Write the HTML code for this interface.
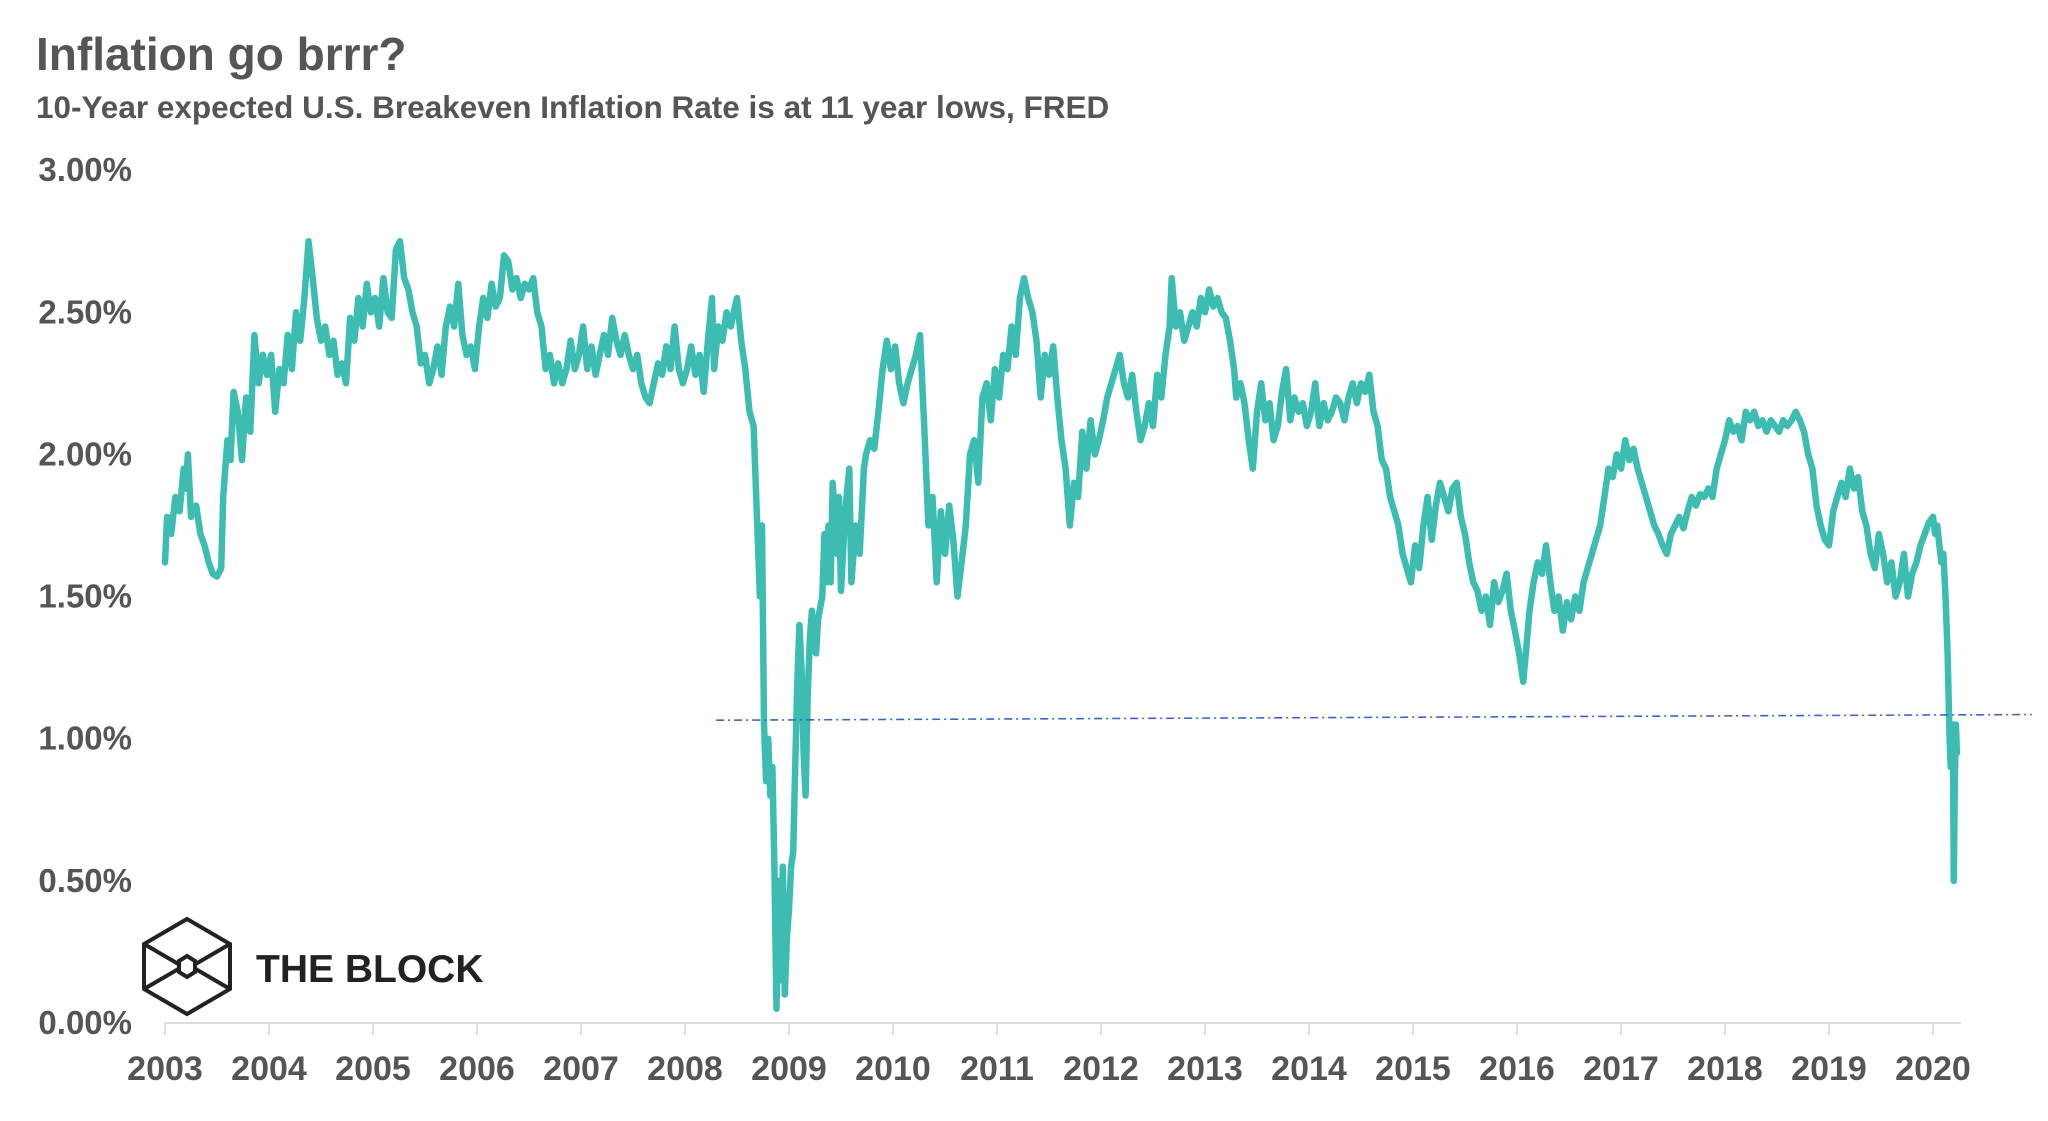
<!DOCTYPE html>
<html><head><meta charset="utf-8"><style>
html,body{margin:0;padding:0;background:#fff;}
body{width:2048px;height:1116px;overflow:hidden;font-family:"Liberation Sans",sans-serif;}
</style></head><body>
<svg id="chart" width="2048" height="1116" xmlns="http://www.w3.org/2000/svg">
<text x="36" y="70" font-family="Liberation Sans, sans-serif" font-size="46" font-weight="bold" fill="#555">Inflation go brrr?</text>
<text x="36" y="118" font-family="Liberation Sans, sans-serif" font-size="31.5" font-weight="bold" fill="#555">10-Year  expected U.S. Breakeven Inflation Rate is at 11 year lows, FRED</text>
<g id="yaxis"></g>
<g id="xaxis"></g>
<g fill="none" stroke="#222" stroke-width="4">
<polygon points="187,919 230,944 230,989 187,1014 144,989 144,944"/>
<line x1="144" y1="944" x2="187" y2="969"/><line x1="230" y1="944" x2="187" y2="969"/>
<line x1="144" y1="989" x2="187" y2="964"/><line x1="230" y1="989" x2="187" y2="964"/>
<polygon points="187,956 195,961 195,972 187,977 179,972 179,961" fill="#fff"/>
</g>
<text x="256" y="982" font-family="Liberation Sans, sans-serif" font-size="39" font-weight="bold" fill="#222">THE BLOCK</text>
<g id="marks"></g>
</svg>
<script>
const yTicks=[0,0.5,1.0,1.5,2.0,2.5,3.0];
const yTickLabels=["0.00%","0.50%","1.00%","1.50%","2.00%","2.50%","3.00%"];
const xTicks=[2003,2004,2005,2006,2007,2008,2009,2010,2011,2012,2013,2014,2015,2016,2017,2018,2019,2020];
const xTickLabels=["2003","2004","2005","2006","2007","2008","2009","2010","2011","2012","2013","2014","2015","2016","2017","2018","2019","2020"];
const refLineX=[2008.3,2020.95];
const refLineY=[1.065,1.085];
const dates=[2003.00,2003.02,2003.06,2003.10,2003.14,2003.18,2003.20,2003.22,2003.25,2003.30,2003.34,2003.38,2003.42,2003.46,2003.50,2003.54,2003.56,2003.60,2003.63,2003.66,2003.70,2003.74,2003.78,2003.82,2003.86,2003.90,2003.94,2003.98,
2004.02,2004.06,2004.10,2004.14,2004.18,2004.22,2004.26,2004.30,2004.34,2004.38,2004.42,2004.46,2004.50,2004.54,2004.58,2004.62,2004.66,2004.70,2004.74,2004.78,2004.82,2004.86,2004.90,2004.94,2004.98,
2005.02,2005.06,2005.10,2005.14,2005.18,2005.22,2005.26,2005.30,2005.34,2005.38,2005.42,2005.46,2005.50,2005.54,2005.58,2005.62,2005.66,2005.70,2005.74,2005.78,2005.82,2005.86,2005.90,2005.94,2005.98,
2006.02,2006.06,2006.10,2006.14,2006.18,2006.22,2006.26,2006.30,2006.34,2006.38,2006.42,2006.46,2006.50,2006.54,2006.58,2006.62,2006.66,2006.70,2006.74,2006.78,2006.82,2006.86,2006.90,2006.94,2006.98,
2007.02,2007.06,2007.10,2007.14,2007.18,2007.22,2007.26,2007.30,2007.34,2007.38,2007.42,2007.46,2007.50,2007.54,2007.58,2007.62,2007.66,2007.70,2007.74,2007.78,2007.82,2007.86,2007.90,2007.94,2007.98,
2008.02,2008.06,2008.10,2008.14,2008.18,2008.22,2008.26,2008.28,2008.32,2008.36,2008.40,2008.44,2008.48,2008.50,2008.54,2008.58,2008.62,2008.66,2008.68,2008.70,2008.72,2008.74,2008.76,2008.78,2008.80,2008.82,2008.84,2008.86,2008.88,2008.90,2008.92,2008.94,2008.96,2008.98,
2009.00,2009.02,2009.04,2009.06,2009.08,2009.10,2009.12,2009.14,2009.16,2009.18,2009.20,2009.22,2009.26,2009.28,2009.32,2009.34,2009.36,2009.38,2009.40,2009.42,2009.46,2009.48,2009.50,2009.54,2009.58,2009.60,2009.64,2009.68,2009.72,2009.74,2009.78,2009.82,2009.86,2009.90,2009.94,2009.98,
2010.02,2010.06,2010.10,2010.14,2010.18,2010.22,2010.26,2010.30,2010.34,2010.38,2010.42,2010.46,2010.50,2010.54,2010.58,2010.62,2010.66,2010.70,2010.74,2010.78,2010.82,2010.86,2010.90,2010.94,2010.98,
2011.02,2011.06,2011.10,2011.14,2011.18,2011.22,2011.26,2011.30,2011.34,2011.38,2011.42,2011.46,2011.50,2011.54,2011.58,2011.62,2011.66,2011.70,2011.74,2011.78,2011.82,2011.86,2011.90,2011.94,2011.98,
2012.02,2012.06,2012.10,2012.14,2012.18,2012.22,2012.26,2012.30,2012.34,2012.38,2012.42,2012.46,2012.50,2012.54,2012.58,2012.62,2012.66,2012.68,2012.72,2012.76,2012.80,2012.84,2012.88,2012.92,2012.96,
2013.00,2013.04,2013.08,2013.12,2013.16,2013.20,2013.24,2013.28,2013.30,2013.34,2013.38,2013.42,2013.46,2013.50,2013.54,2013.58,2013.62,2013.66,2013.70,2013.74,2013.78,2013.82,2013.86,2013.90,2013.94,2013.98,
2014.02,2014.06,2014.10,2014.14,2014.18,2014.22,2014.26,2014.30,2014.34,2014.38,2014.42,2014.46,2014.50,2014.54,2014.58,2014.62,2014.66,2014.70,2014.74,2014.78,2014.82,2014.86,2014.90,2014.94,2014.98,
2015.02,2015.06,2015.10,2015.14,2015.18,2015.22,2015.26,2015.30,2015.34,2015.38,2015.42,2015.46,2015.50,2015.54,2015.58,2015.62,2015.66,2015.70,2015.74,2015.78,2015.82,2015.86,2015.90,2015.94,2015.98,
2016.02,2016.06,2016.08,2016.12,2016.16,2016.20,2016.24,2016.28,2016.32,2016.36,2016.40,2016.44,2016.48,2016.52,2016.56,2016.60,2016.64,2016.68,2016.72,2016.76,2016.80,2016.84,2016.88,2016.92,2016.96,
2017.00,2017.04,2017.08,2017.12,2017.16,2017.20,2017.24,2017.28,2017.32,2017.36,2017.40,2017.44,2017.48,2017.52,2017.56,2017.60,2017.64,2017.68,2017.72,2017.76,2017.80,2017.84,2017.88,2017.92,2017.96,
2018.00,2018.04,2018.08,2018.12,2018.16,2018.20,2018.24,2018.28,2018.32,2018.36,2018.40,2018.44,2018.48,2018.52,2018.56,2018.60,2018.64,2018.68,2018.72,2018.76,2018.80,2018.84,2018.88,2018.92,2018.96,
2019.00,2019.04,2019.08,2019.12,2019.16,2019.20,2019.24,2019.28,2019.32,2019.36,2019.40,2019.44,2019.48,2019.52,2019.56,2019.60,2019.64,2019.68,2019.72,2019.76,2019.80,2019.84,2019.88,2019.92,2019.96,
2020.00,2020.02,2020.04,2020.08,2020.10,2020.12,2020.14,2020.16,2020.17,2020.19,2020.20,2020.21,2020.22,2020.23];
const rates=[1.62,1.78,1.72,1.85,1.80,1.95,1.88,2.00,1.78,1.82,1.72,1.68,1.62,1.58,1.57,1.60,1.85,2.05,1.98,2.22,2.15,1.98,2.20,2.08,2.42,2.25,2.35,2.28,
2.35,2.15,2.30,2.25,2.42,2.30,2.50,2.40,2.55,2.75,2.62,2.48,2.40,2.45,2.35,2.40,2.28,2.32,2.25,2.48,2.40,2.55,2.45,2.60,2.50,
2.55,2.45,2.62,2.50,2.48,2.72,2.75,2.62,2.58,2.50,2.45,2.32,2.35,2.25,2.30,2.38,2.28,2.45,2.52,2.45,2.60,2.42,2.35,2.38,2.30,
2.45,2.55,2.48,2.60,2.52,2.55,2.70,2.68,2.58,2.62,2.55,2.60,2.58,2.62,2.50,2.45,2.30,2.35,2.25,2.32,2.25,2.30,2.40,2.30,2.35,
2.45,2.30,2.38,2.28,2.35,2.42,2.35,2.48,2.40,2.35,2.42,2.35,2.30,2.35,2.25,2.20,2.18,2.25,2.32,2.28,2.38,2.30,2.45,2.30,2.25,
2.30,2.38,2.28,2.35,2.22,2.40,2.55,2.30,2.45,2.40,2.50,2.45,2.52,2.55,2.40,2.30,2.15,2.10,1.90,1.70,1.50,1.75,1.05,0.85,1.00,0.80,0.90,0.55,0.05,0.50,0.15,0.55,0.10,0.30,
0.40,0.55,0.60,0.90,1.20,1.40,1.25,0.95,0.80,1.15,1.35,1.45,1.30,1.42,1.50,1.72,1.55,1.75,1.55,1.90,1.65,1.85,1.52,1.80,1.95,1.55,1.75,1.65,1.95,2.00,2.05,2.02,2.15,2.30,2.40,2.30,
2.38,2.25,2.18,2.25,2.30,2.35,2.42,2.10,1.75,1.85,1.55,1.80,1.65,1.82,1.70,1.50,1.62,1.75,2.00,2.05,1.90,2.20,2.25,2.12,2.30,
2.20,2.35,2.30,2.45,2.35,2.55,2.62,2.55,2.50,2.40,2.20,2.35,2.28,2.38,2.20,2.05,1.95,1.75,1.90,1.85,2.08,1.95,2.12,2.00,2.05,
2.12,2.20,2.25,2.30,2.35,2.25,2.20,2.28,2.15,2.05,2.10,2.18,2.10,2.28,2.20,2.35,2.45,2.62,2.45,2.50,2.40,2.45,2.50,2.45,2.55,
2.50,2.58,2.52,2.55,2.50,2.48,2.40,2.30,2.20,2.25,2.18,2.05,1.95,2.15,2.25,2.12,2.18,2.05,2.10,2.22,2.30,2.12,2.20,2.15,2.18,2.10,
2.15,2.25,2.10,2.18,2.12,2.15,2.20,2.18,2.12,2.20,2.25,2.18,2.25,2.22,2.28,2.15,2.10,1.98,1.95,1.85,1.80,1.75,1.65,1.60,1.55,
1.68,1.60,1.75,1.85,1.70,1.82,1.90,1.85,1.80,1.88,1.90,1.78,1.72,1.62,1.55,1.52,1.45,1.50,1.40,1.55,1.48,1.52,1.58,1.45,1.38,
1.30,1.20,1.28,1.45,1.55,1.62,1.58,1.68,1.55,1.45,1.50,1.38,1.48,1.42,1.50,1.45,1.55,1.60,1.65,1.70,1.75,1.85,1.95,1.92,2.00,
1.95,2.05,1.98,2.02,1.95,1.90,1.85,1.80,1.75,1.72,1.68,1.65,1.72,1.75,1.78,1.74,1.80,1.85,1.82,1.86,1.85,1.88,1.85,1.95,2.00,
2.05,2.12,2.08,2.10,2.05,2.15,2.12,2.15,2.10,2.12,2.08,2.12,2.10,2.08,2.12,2.10,2.12,2.15,2.12,2.08,2.00,1.95,1.82,1.75,1.70,
1.68,1.80,1.85,1.90,1.85,1.95,1.88,1.92,1.80,1.75,1.65,1.60,1.72,1.65,1.55,1.62,1.50,1.55,1.65,1.50,1.58,1.62,1.68,1.72,1.76,
1.78,1.72,1.75,1.62,1.65,1.50,1.30,1.00,0.90,1.05,0.50,0.85,1.05,0.95];

const X0=165, PX_PER_YEAR=104.0, Y0=1023, PX_PER_PCT=284.3;
function xScale(v){return X0+(v-2003)*PX_PER_YEAR;}
function yScale(v){return Y0-v*PX_PER_PCT;}
const NS="http://www.w3.org/2000/svg";
const yaxis=document.getElementById('yaxis'), xaxis=document.getElementById('xaxis'), marks=document.getElementById('marks');

yTicks.forEach((t,i)=>{
  const tx=document.createElementNS(NS,'text');
  
  
  tx.setAttribute('x',132);tx.setAttribute('y',yScale(t)+11);
  tx.setAttribute('text-anchor','end');tx.setAttribute('font-size','33');tx.setAttribute('font-weight','bold');
  tx.setAttribute('font-family','Liberation Sans, sans-serif');tx.setAttribute('fill','#555');
  tx.textContent=yTickLabels[i];yaxis.appendChild(tx);
});
const axisLine=document.createElementNS(NS,'line');


axisLine.setAttribute('x1',X0);axisLine.setAttribute('x2',1961);axisLine.setAttribute('y1',Y0);axisLine.setAttribute('y2',Y0);
axisLine.setAttribute('stroke','#ddd');axisLine.setAttribute('stroke-width','2');xaxis.appendChild(axisLine);
xTicks.forEach((t,i)=>{
  const tk=document.createElementNS(NS,'line');
  
  
  tk.setAttribute('x1',xScale(t));tk.setAttribute('x2',xScale(t));tk.setAttribute('y1',Y0);tk.setAttribute('y2',Y0+12);
  tk.setAttribute('stroke','#ddd');tk.setAttribute('stroke-width','2');xaxis.appendChild(tk);
  const tx=document.createElementNS(NS,'text');
  
  
  tx.setAttribute('x',xScale(t));tx.setAttribute('y',1080);tx.setAttribute('text-anchor','middle');
  tx.setAttribute('font-size','34');tx.setAttribute('font-weight','bold');
  tx.setAttribute('font-family','Liberation Sans, sans-serif');tx.setAttribute('fill','#555');
  tx.textContent=xTickLabels[i];xaxis.appendChild(tx);
});
const path=document.createElementNS(NS,'path');


path.setAttribute('d',dates.map((d,i)=>(i?'L':'M')+xScale(d).toFixed(1)+','+yScale(rates[i]).toFixed(1)).join(''));
path.setAttribute('fill','none');path.setAttribute('stroke','#3dbdb1');path.setAttribute('stroke-width','6.5');
path.setAttribute('stroke-linejoin','round');path.setAttribute('stroke-linecap','round');
marks.appendChild(path);
const ref=document.createElementNS(NS,'line');


ref.setAttribute('x1',xScale(refLineX[0]));ref.setAttribute('x2',xScale(refLineX[1]));
ref.setAttribute('y1',yScale(refLineY[0]));ref.setAttribute('y2',yScale(refLineY[1]));
ref.setAttribute('stroke','#3a66cc');ref.setAttribute('stroke-width','1.6');ref.setAttribute('stroke-dasharray','8,4,2,4');
marks.appendChild(ref);
</script>
</body></html>
